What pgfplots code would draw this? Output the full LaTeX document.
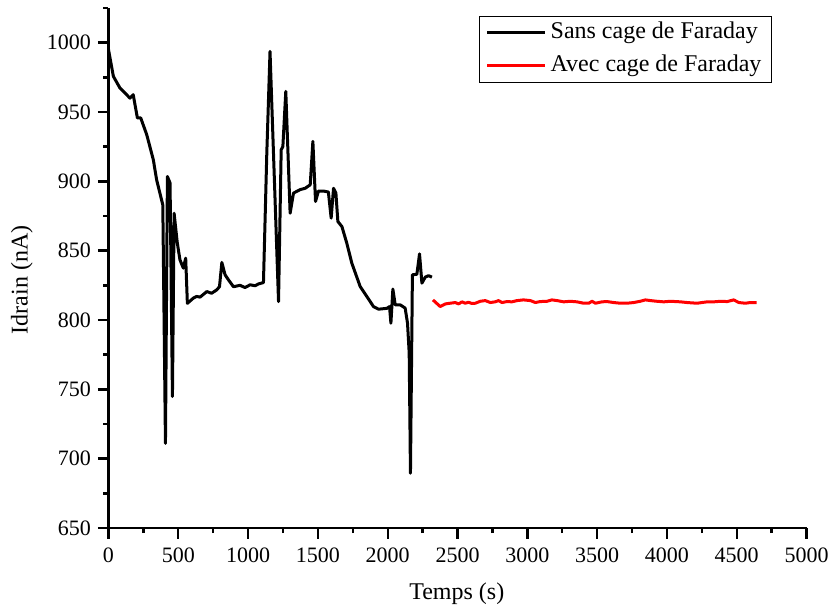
\documentclass[border=0pt]{standalone}
\usepackage{fontspec}
\setmainfont{Liberation Serif}
\usepackage{pgfplots}
\pgfplotsset{compat=1.18}

\begin{document}
\begin{tikzpicture}
\begin{axis}[
    at={(0pt,0pt)}, anchor=south west,
    scale only axis,
    width=349pt, height=260pt,
    xmin=0, xmax=5000,
    ymin=650, ymax=1025,
    xtick={0,500,...,5000},
    ytick={650,700,...,1000},
    minor x tick num=1,
    minor y tick num=1,
    extra y ticks={1025},
    extra y tick labels={},
    extra y tick style={major tick length=2.5pt},
    axis lines*=left,
    axis line style={line width=1.2pt},
    tick align=outside,
    major tick length=5.3pt,
    minor tick length=2.5pt,
    tick style={line width=1.2pt, black},
    scaled ticks=false,
    /pgf/number format/set thousands separator={},
    /pgf/number format/assume math mode=true,
    tick label style={font=\fontsize{11}{13}\selectfont},
    xticklabel style={yshift=-1pt},
    xlabel={Temps (s)},
    ylabel={Idrain (nA)},
    label style={font=\fontsize{12}{14}\selectfont},
    xlabel style={at={(axis description cs:0.499,-0.127)}, anchor=center},
    ylabel style={at={(axis description cs:-0.124,0.477)}, anchor=center},
    legend cell align=left,
    legend image code/.code={\draw[#1] (0pt,0pt) -- (29pt,0pt);},
    legend style={at={(0.9506,0.985)}, anchor=north east,
        draw=black, line width=0.6pt, inner xsep=3pt, inner ysep=0pt,
        font=\fontsize{12}{14}\selectfont,
        nodes={text height=9pt, text depth=3pt, inner ysep=2.25pt}},
]
\addplot[black, line width=1.5pt, line join=round] coordinates {
(0,995) (35,975.7) (82,967.3) (154,960) (177,962.5) (207,945.7) (231,945.7)
(274,933.6) (321,915.6) (345,901) (389,883) (408,711) (422,903.5) (441,898.8)
(458,744.8) (470,877) (493,855.4) (512,843.4) (536,837.4) (553,844.6) (565,812)
(608,815.8) (632,817) (656,816.5) (704,820.5) (739,819.3) (775,821.7) (795,824)
(812,841.5) (835,832.6) (859,829) (895,824) (942,825) (978,823.4) (1015,825.4)
(1050,824.7) (1074,826) (1110,827) (1134,920.4) (1157,993.7) (1218,813.3)
(1237,922.8) (1249,925) (1270,964.9) (1301,877) (1325,891.5) (1372,894)
(1409,895) (1445,897.5) (1464,928.8) (1483,885.5) (1504,893) (1540,893)
(1575,892.3) (1595,873.5) (1612,895) (1629,891.5) (1643,871) (1672,867.4)
(1707,855.4) (1743,841) (1803,824.1) (1851,816.9) (1898,809.7) (1934,807.8)
(1994,808.4) (2013,809.7) (2023,797.7) (2037,822.3) (2054,810.9) (2090,810.9)
(2125,808.6) (2142,797.7) (2154,776) (2163,689.5) (2177,832.6) (2209,833)
(2228,847.7) (2245,826.6) (2269,830.9) (2292,832) (2317,830.9)
};
\addlegendentry{Sans cage de Faraday}
\addplot[red, line width=1.5pt, line join=round] coordinates {
(2324,814.5) (2376,809.7) (2413,811.6) (2448,812.1) (2484,812.6) (2508,811.6)
(2532,813.1) (2555,812.1) (2579,812.8) (2603,811.9) (2628,812.1) (2663,813.5)
(2699,814.0) (2735,812.6) (2770,813.1) (2794,814.0) (2819,812.6) (2854,813.3)
(2890,813.1) (2926,814.0) (2973,814.5) (3022,814.0) (3058,812.6) (3093,813.3)
(3141,813.5) (3176,814.5) (3213,814.0) (3261,813.1) (3308,813.5) (3356,813.1)
(3404,812.1) (3440,812.1) (3464,813.5) (3488,812.1) (3535,813.1) (3571,813.3)
(3619,812.6) (3667,812.1) (3714,812.1) (3762,812.6) (3809,813.5) (3846,814.5)
(3882,814.0) (3929,813.5) (3977,813.1) (4025,813.5) (4097,813.1) (4144,812.6)
(4216,812.1) (4252,812.6) (4288,813.1) (4336,813.1) (4383,813.5) (4432,813.3)
(4479,814.5) (4515,812.6) (4562,812.1) (4598,812.6) (4642,812.6)
};
\addlegendentry{Avec cage de Faraday}
\end{axis}
\pgfresetboundingbox
\path[use as bounding box] (-54.25pt,-42pt) rectangle (360.75pt,264pt);
\end{tikzpicture}
\end{document}
